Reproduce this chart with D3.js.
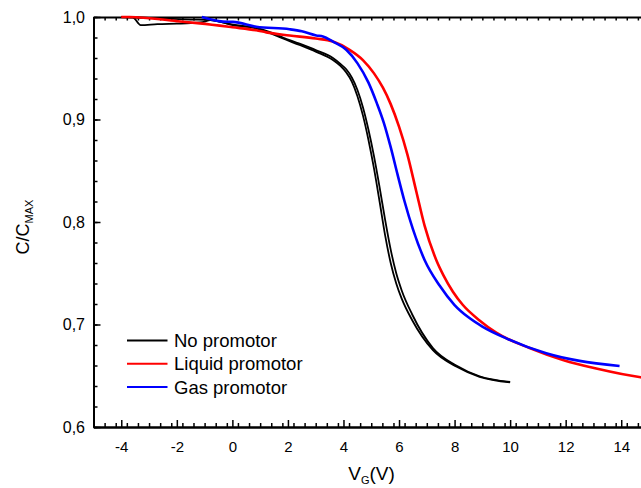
<!DOCTYPE html>
<html>
<head>
<meta charset="utf-8">
<script src="https://cdn.jsdelivr.net/npm/d3@7/dist/d3.min.js"></script>
<style>
  html, body { margin: 0; padding: 0; background: #fff; }
  svg { display: block; font-family: Arial, "Liberation Sans", sans-serif; }
</style>
</head>
<body>
<svg id="chart" width="641" height="488"></svg>
<script>
// Normalised capacitance C/Cmax versus gate voltage VG for three samples
const seriesNames = ["No promotor", "Liquid promotor", "Gas promotor"];
const seriesColors = ["#000000", "#ff0000", "#0000ff"];

// No promotor: two sweeps that nearly overlap
const noPromV1 = [-4, -3.6, -3.3, -2.7, -2.0, -1.5, -1.0, -0.8, -0.4, 0.02, 0.86, 1.3, 1.82, 2.42, 3.02, 3.62, 3.9, 4.1, 4.3, 4.5, 4.7, 4.9, 5.1, 5.3, 5.5, 5.7, 5.9, 6.1, 6.47, 7.22, 8.06, 8.9, 10];
const noPromC1 = [1.0, 1.0, 0.992, 0.993, 0.9935, 0.994, 0.9955, 0.997, 0.995, 0.992, 0.989, 0.985, 0.979, 0.9727, 0.966, 0.958, 0.952, 0.946, 0.937, 0.923, 0.904, 0.880, 0.852, 0.820, 0.787, 0.760, 0.740, 0.725, 0.7044, 0.675, 0.659, 0.649, 0.6435];
const noPromV2 = [-4, -3.4, -2.5, -1.5, -0.8, 0.02, 0.86, 1.3, 1.82, 2.42, 3.02, 3.62, 3.9, 4.1, 4.3, 4.5, 4.7, 4.9, 5.1, 5.3, 5.5, 5.7, 5.9, 6.1, 6.47, 7.22, 8.06, 8.9, 10];
const noPromC2 = [1.0, 0.9995, 0.9985, 0.9975, 0.997, 0.9925, 0.9895, 0.9858, 0.980, 0.974, 0.9675, 0.960, 0.954, 0.949, 0.941, 0.929, 0.912, 0.890, 0.864, 0.834, 0.802, 0.773, 0.750, 0.733, 0.710, 0.677, 0.66, 0.6495, 0.644];

// Liquid promotor
const liquidV = [-4, -3.7, -2.0, -1.17, 0, 0.86, 1.22, 2.06, 3.0, 3.62, 4.22, 4.7, 5.1, 5.42, 5.7, 6.0, 6.3, 6.62, 6.92, 7.34, 7.6, 7.94, 8.3, 8.9, 9.5, 10.7, 11.9, 13.1, 14.7, 15];
const liquidC = [1.0, 1.0, 0.996, 0.9938, 0.990, 0.987, 0.985, 0.982, 0.979, 0.976, 0.968, 0.958, 0.945, 0.931, 0.915, 0.893, 0.866, 0.830, 0.7964, 0.763, 0.748, 0.732, 0.719, 0.704, 0.692, 0.677, 0.6654, 0.657, 0.6485, 0.6475];

// Gas promotor
const gasV = [-1.1, -0.34, 0.02, 0.86, 2.06, 2.5, 3.02, 3.26, 3.62, 4.1, 4.5, 4.9, 5.2, 5.45, 5.7, 5.95, 6.2, 6.5, 6.92, 7.46, 8.0, 8.5, 9.0, 9.86, 11.3, 12.5, 13.94];
const gasC = [1.0, 0.9955, 0.9952, 0.9905, 0.988, 0.986, 0.982, 0.981, 0.976, 0.968, 0.955, 0.936, 0.916, 0.897, 0.873, 0.846, 0.820, 0.793, 0.763, 0.738, 0.719, 0.707, 0.698, 0.6865, 0.672, 0.6645, 0.6595];

// Axis ticks and labels
const xTickValues = [-4, -2, 0, 2, 4, 6, 8, 10, 12, 14];
const xTickLabels = ["-4", "-2", "0", "2", "4", "6", "8", "10", "12", "14"];
const yTickValues = [0.6, 0.7, 0.8, 0.9, 1.0];
const yTickLabels = ["0,6", "0,7", "0,8", "0,9", "1,0"];

const svg = d3.select("#chart");
const plotLeft = 93.5, plotRight = 649, plotTop = 17, plotBottom = 427;

const x = d3.scaleLinear().domain([-5, 15]).range([plotLeft, plotRight]);
const y = d3.scaleLinear().domain([0.6, 1.0]).range([plotBottom, plotTop]);

const xMinor = d3.range(-5, 15.001, 0.4).map(v => +v.toFixed(2));
const yMinor = d3.range(0.6, 1.0001, 0.02).map(v => +v.toFixed(3));

function styleAxis(g) {
  g.select(".domain").attr("stroke", "#000").attr("stroke-width", 2);
  g.selectAll(".tick line").attr("stroke", "#000").attr("stroke-width", 1.5);
  g.selectAll(".tick text").attr("fill", "#000");
}

// Bottom axis: minor and major ticks pointing inward
svg.append("g").attr("transform", `translate(0,${plotBottom})`)
  .call(d3.axisBottom(x).tickValues(xMinor).tickSize(-4).tickSizeOuter(0).tickFormat(""))
  .call(styleAxis);
svg.append("g").attr("transform", `translate(0,${plotBottom})`)
  .call(d3.axisBottom(x).tickValues(xTickValues).tickSize(-7).tickSizeOuter(0).tickPadding(14)
    .tickFormat((d, i) => xTickLabels[i]))
  .call(styleAxis)
  .call(g => g.selectAll(".tick text").attr("font-size", 15).attr("font-family", "Arial, 'Liberation Sans', sans-serif"));

// Top axis
svg.append("g").attr("transform", `translate(0,${plotTop})`)
  .call(d3.axisTop(x).tickValues(xMinor).tickSize(-3.5).tickSizeOuter(0).tickFormat(""))
  .call(styleAxis);

// Left axis
svg.append("g").attr("transform", `translate(${plotLeft},0)`)
  .call(d3.axisLeft(y).tickValues(yMinor).tickSize(-4).tickSizeOuter(0).tickFormat(""))
  .call(styleAxis);
svg.append("g").attr("transform", `translate(${plotLeft},0)`)
  .call(d3.axisLeft(y).tickValues(yTickValues).tickSize(-7).tickSizeOuter(0).tickPadding(8.5)
    .tickFormat((d, i) => yTickLabels[i]))
  .call(styleAxis)
  .call(g => g.selectAll(".tick text").attr("font-size", 16).attr("font-family", "Arial, 'Liberation Sans', sans-serif"));

// Right axis
svg.append("g").attr("transform", `translate(${plotRight},0)`)
  .call(d3.axisRight(y).tickValues(yMinor).tickSize(-4).tickSizeOuter(0).tickFormat(""))
  .call(styleAxis);

// Curves
const line = d3.line().x(d => x(d[0])).y(d => y(d[1])).curve(d3.curveMonotoneX);
const zip = (a, b) => a.map((v, i) => [v, b[i]]);

const curves = [
  { pts: zip(noPromV1, noPromC1), color: seriesColors[0], w: 1.8 },
  { pts: zip(noPromV2, noPromC2), color: seriesColors[0], w: 1.8 },
  { pts: zip(liquidV, liquidC), color: seriesColors[1], w: 2.6 },
  { pts: zip(gasV, gasC), color: seriesColors[2], w: 2.6 }
];
svg.append("g").selectAll("path").data(curves).join("path")
  .attr("d", d => line(d.pts))
  .attr("fill", "none")
  .attr("stroke", d => d.color)
  .attr("stroke-width", d => d.w)
  .attr("stroke-linejoin", "round");

// Legend
const legend = svg.append("g").attr("transform", "translate(127,340.5)");
seriesNames.forEach((name, i) => {
  const row = legend.append("g").attr("transform", `translate(0,${i * 23.3})`);
  row.append("line").attr("x1", 0).attr("x2", 40.5).attr("y1", 0).attr("y2", 0)
    .attr("stroke", seriesColors[i]).attr("stroke-width", 2);
  row.append("text").attr("x", 47).attr("y", 0).attr("dy", "0.35em")
    .attr("font-size", 18.5).attr("fill", "#000").text(name);
});

// Axis titles
const xt = svg.append("text").attr("x", 371.5).attr("y", 480).attr("text-anchor", "middle")
  .attr("font-size", 19).attr("fill", "#000");
xt.append("tspan").text("V");
xt.append("tspan").attr("font-size", 11).attr("dy", 4).text("G");
xt.append("tspan").attr("dy", -4).text("(V)");

const yt = svg.append("text").attr("transform", "translate(28.5,227) rotate(-90)")
  .attr("text-anchor", "middle").attr("font-size", 18).attr("fill", "#000");
yt.append("tspan").text("C/C");
yt.append("tspan").attr("font-size", 11).attr("dy", 4).text("MAX");
</script>
</body>
</html>
